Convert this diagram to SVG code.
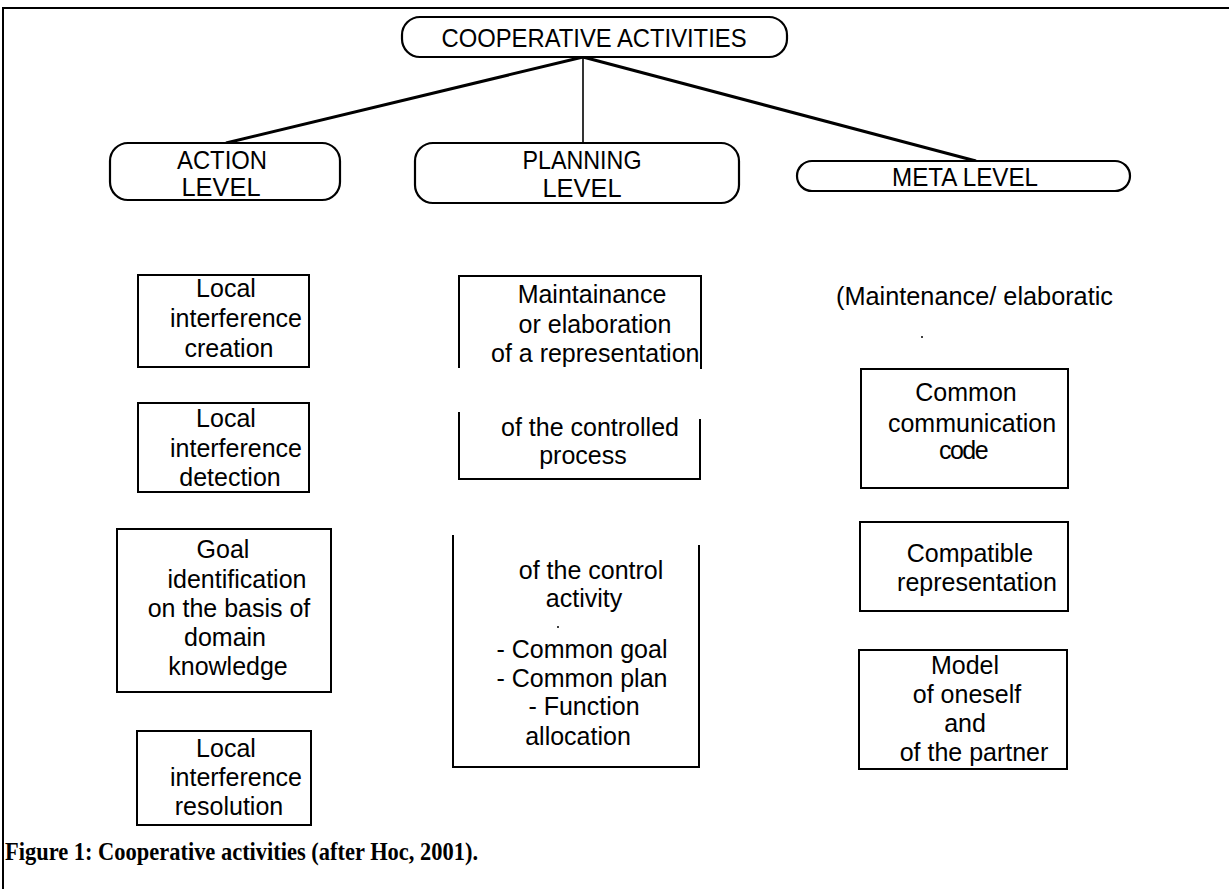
<svg xmlns="http://www.w3.org/2000/svg" width="1229" height="889" viewBox="0 0 1229 889">
<style>
  .bg { fill: #ffffff; }
  .frame { stroke: #000; stroke-width: 2; fill: none; }
  .box { stroke: #000; stroke-width: 2; fill: none; }
  .pill { stroke: #000; stroke-width: 2.2; fill: #fff; }
  .t { font-family: "Liberation Sans", Arial, Helvetica, sans-serif; font-size: 25px; fill: #000; text-anchor: middle; }
  .h { font-family: "Liberation Sans", Arial, Helvetica, sans-serif; font-size: 25px; fill: #000; text-anchor: middle; }
  .tl { font-family: "Liberation Sans", Arial, Helvetica, sans-serif; font-size: 25px; fill: #000; }
  .cap { font-family: "Liberation Serif", "Times New Roman", serif; font-size: 26px; font-weight: bold; fill: #000; }
  .thick { stroke: #000; stroke-width: 3; fill: none; }
  .thin { stroke: #000; stroke-width: 1.6; fill: none; }
</style>
<defs>
  <clipPath id="clipRep"><rect x="440" y="330" width="260" height="45"/></clipPath>
</defs>
<rect class="bg" x="0" y="0" width="1229" height="889"/>
<path class="frame" d="M3,889 L3,8 L1229,8"/>

<g id="connectors">
  <line class="thick" x1="583" y1="57" x2="226" y2="143"/>
  <line class="thin" x1="583" y1="57" x2="583" y2="143"/>
  <line class="thick" x1="583" y1="57" x2="976" y2="161"/>
</g>

<g id="cooperative-activities">
  <rect class="pill" x="402" y="17" width="385" height="40" rx="18" ry="18"/>
  <text class="h" x="594" y="47" font-size="27" textLength="305" lengthAdjust="spacingAndGlyphs">COOPERATIVE ACTIVITIES</text>
</g>

<g id="action-level">
  <rect class="pill" x="110" y="143" width="230" height="57" rx="18" ry="18"/>
  <text class="h" x="222" y="169" textLength="90" lengthAdjust="spacingAndGlyphs">ACTION</text>
  <text class="h" x="221" y="196" textLength="79" lengthAdjust="spacingAndGlyphs">LEVEL</text>
</g>

<g id="planning-level">
  <rect class="pill" x="415" y="143" width="324" height="60" rx="18" ry="18"/>
  <text class="h" x="582" y="169" textLength="119" lengthAdjust="spacingAndGlyphs">PLANNING</text>
  <text class="h" x="582" y="197" textLength="79" lengthAdjust="spacingAndGlyphs">LEVEL</text>
</g>

<g id="meta-level">
  <rect class="pill" x="797" y="161" width="333" height="30" rx="15" ry="15"/>
  <text class="h" x="965" y="186" textLength="146" lengthAdjust="spacingAndGlyphs">META LEVEL</text>
</g>

<g id="local-interference-creation">
  <rect class="box" x="138" y="275" width="171" height="92"/>
  <text class="t" x="226" y="297">Local</text>
  <text class="t" x="236" y="327">interference</text>
  <text class="t" x="229" y="357">creation</text>
</g>

<g id="local-interference-detection">
  <rect class="box" x="138" y="403" width="171" height="89"/>
  <text class="t" x="226" y="427">Local</text>
  <text class="t" x="236" y="457">interference</text>
  <text class="t" x="230" y="486">detection</text>
</g>

<g id="goal-identification">
  <rect class="box" x="117" y="529" width="214" height="163"/>
  <text class="t" x="223" y="558">Goal</text>
  <text class="t" x="237" y="588">identification</text>
  <text class="t" x="229" y="617">on the basis of</text>
  <text class="t" x="225" y="646">domain</text>
  <text class="t" x="228" y="675">knowledge</text>
</g>

<g id="local-interference-resolution">
  <rect class="box" x="137" y="731" width="174" height="94"/>
  <text class="t" x="226" y="757">Local</text>
  <text class="t" x="236" y="786">interference</text>
  <text class="t" x="229" y="815">resolution</text>
</g>

<g id="maintainance">
  <path class="box" d="M459,368 L459,276 L701,276 L701,369"/>
  <text class="t" x="592" y="303">Maintainance</text>
  <text class="t" x="595" y="333">or elaboration</text>
  <text class="tl" x="491" y="362" clip-path="url(#clipRep)">of a representation</text>
</g>

<g id="controlled-process">
  <path class="box" d="M459,412 L459,479 L700,479 L700,419"/>
  <text class="t" x="590" y="436">of the controlled</text>
  <text class="t" x="583" y="464">process</text>
</g>

<g id="control-activity">
  <path class="box" d="M453,535 L453,767 L699,767 L699,545"/>
  <text class="t" x="591" y="579">of the control</text>
  <text class="t" x="584" y="607">activity</text>
  <circle cx="558" cy="627" r="1" fill="#000"/>
  <text class="t" x="582" y="658">- Common goal</text>
  <text class="t" x="582" y="687">- Common plan</text>
  <text class="t" x="584" y="715">- Function</text>
  <text class="t" x="578" y="745">allocation</text>
</g>

<g id="meta-heading">
  <text class="tl" x="836" y="305" textLength="277" lengthAdjust="spacingAndGlyphs">(Maintenance/ elaboratic</text>
  <circle cx="922" cy="337" r="1" fill="#000"/>
</g>

<g id="common-communication-code">
  <rect class="box" x="861" y="369" width="207" height="119"/>
  <text class="t" x="966" y="401">Common</text>
  <text class="t" x="972" y="432">communication</text>
  <text class="t" x="963" y="459" letter-spacing="-1.5">code</text>
</g>

<g id="compatible-representation">
  <rect class="box" x="860" y="522" width="208" height="89"/>
  <text class="t" x="970" y="562">Compatible</text>
  <text class="t" x="977" y="591">representation</text>
</g>

<g id="model-oneself-partner">
  <rect class="box" x="859" y="650" width="208" height="119"/>
  <text class="t" x="965" y="674">Model</text>
  <text class="t" x="967" y="703">of oneself</text>
  <text class="t" x="965" y="732">and</text>
  <text class="t" x="974" y="761">of the partner</text>
</g>

<text class="cap" x="5" y="860" textLength="473" lengthAdjust="spacingAndGlyphs">Figure 1: Cooperative activities (after Hoc, 2001).</text>
</svg>
